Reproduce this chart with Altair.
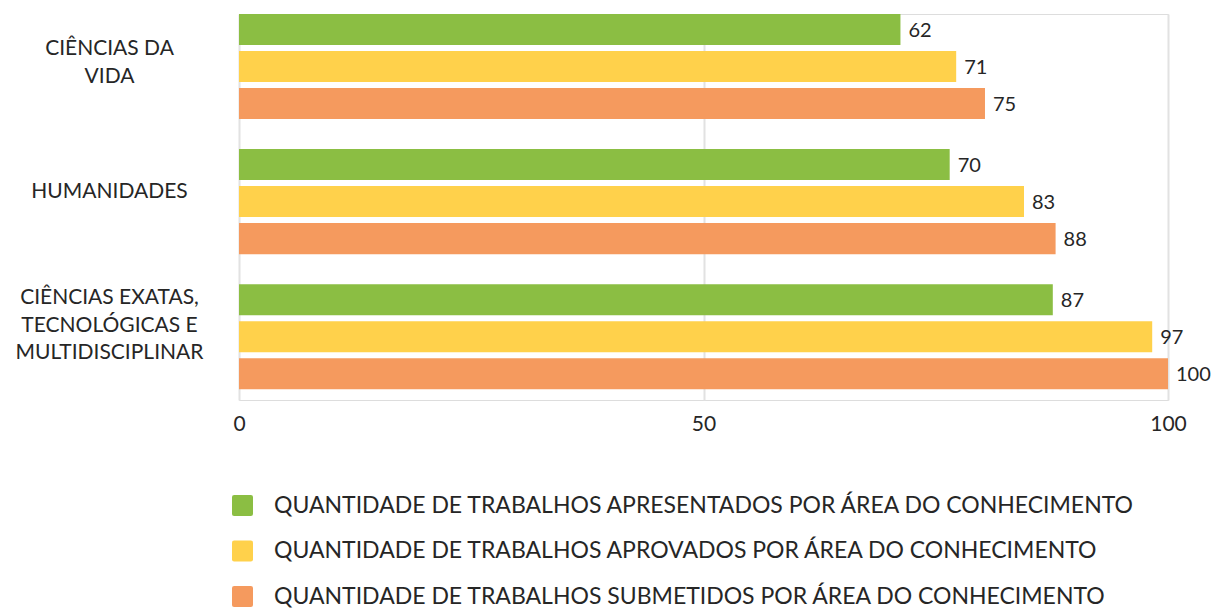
import altair as alt
import pandas as pd

categories = ["CIÊNCIAS DA|VIDA", "HUMANIDADES", "CIÊNCIAS EXATAS,|TECNOLÓGICAS E|MULTIDISCIPLINAR"]
series = [
    "QUANTIDADE DE TRABALHOS APRESENTADOS POR ÁREA DO CONHECIMENTO",
    "QUANTIDADE DE TRABALHOS APROVADOS POR ÁREA DO CONHECIMENTO",
    "QUANTIDADE DE TRABALHOS SUBMETIDOS POR ÁREA DO CONHECIMENTO",
]
colors = ["#8BBE43", "#FFD14B", "#F59A5E"]

# bar lengths as drawn in the picture
apresentados_len = [71.2, 76.5, 87.6]
aprovados_len = [77.2, 84.5, 98.3]
submetidos_len = [80.3, 87.9, 100.0]
# printed data labels
apresentados_lbl = ["62", "70", "87"]
aprovados_lbl = ["71", "83", "97"]
submetidos_lbl = ["75", "88", "100"]

rows = []
for s, lens, lbls in zip(series,
                         [apresentados_len, aprovados_len, submetidos_len],
                         [apresentados_lbl, aprovados_lbl, submetidos_lbl]):
    for c, v, l in zip(categories, lens, lbls):
        rows.append({"cat": c, "series": s, "value": v, "label": l})
df = pd.DataFrame(rows)

FONT = "Lato"
TXT = "#262626"

rounded_square = ("M -0.8 -1 L 0.8 -1 Q 1 -1 1 -0.8 L 1 0.8 Q 1 1 0.8 1 "
                  "L -0.8 1 Q -1 1 -1 0.8 L -1 -0.8 Q -1 -1 -0.8 -1 Z")

label_offset = {
    "condition": [
        {"test": "indexof(datum.value, 'VIDA') >= 0", "value": -17.5},
        {"test": "indexof(datum.value, 'EXATAS') >= 0", "value": -38.5},
    ],
    "value": -9.5,
}

y_enc = alt.Y("cat:N", sort=categories, title=None,
              scale=alt.Scale(paddingInner=0.2222, paddingOuter=0.04, align=0),
              axis=alt.Axis(domain=False, ticks=False, tickSize=0, grid=False,
                            labelAlign="center", labelBaseline="middle",
                            labelPadding=130, labelOffset=label_offset,
                            labelExpr="split(datum.label, '|')",
                            labelFont=FONT, labelFontSize=21, labelColor=TXT,
                            labelLineHeight=27.5, labelLimit=400))
yoff = alt.YOffset("series:N", sort=series,
                   scale=alt.Scale(domain=series, paddingInner=0.162, paddingOuter=0))
x_enc = alt.X("value:Q", title=None,
              scale=alt.Scale(domain=[0, 100], nice=False, zero=True),
              axis=alt.Axis(values=[0, 50, 100], domain=False, ticks=False, tickSize=0,
                            grid=True, gridColor="#E2E2E2", gridWidth=2,
                            labelFont=FONT, labelFontSize=21, labelColor=TXT,
                            labelPadding=13, labelFlush=False))

bars = alt.Chart(df).mark_bar(cornerRadius=0).encode(
    x=x_enc,
    y=y_enc,
    yOffset=yoff,
    color=alt.Color("series:N", sort=series,
                    scale=alt.Scale(domain=series, range=colors),
                    legend=alt.Legend(title=None, orient="none", legendX=-8, legendY=480,
                                      symbolType=rounded_square, symbolSize=441,
                                      symbolStrokeWidth=0, symbolOpacity=1,
                                      labelFont=FONT, labelFontSize=23, labelColor=TXT,
                                      labelOffset=20, labelLimit=1200, rowPadding=21.5,
                                      padding=0, direction="vertical")),
)

labels = alt.Chart(df).mark_text(align="left", baseline="middle", dx=8, dy=1,
                                 font=FONT, fontSize=20, color=TXT).encode(
    x=alt.X("value:Q"),
    y=alt.Y("cat:N", sort=categories),
    yOffset=alt.YOffset("series:N", sort=series),
    text="label:N",
)

chart = alt.layer(bars, labels).properties(
    width=929, height=386,
    autosize=alt.AutoSizeParams(type="none"),
    padding={"left": 231, "top": 6, "right": 44, "bottom": 209},
).configure_view(stroke=None).configure(background="white")

chart.save("out.html", embed_options={"renderer": "svg", "actions": False})
